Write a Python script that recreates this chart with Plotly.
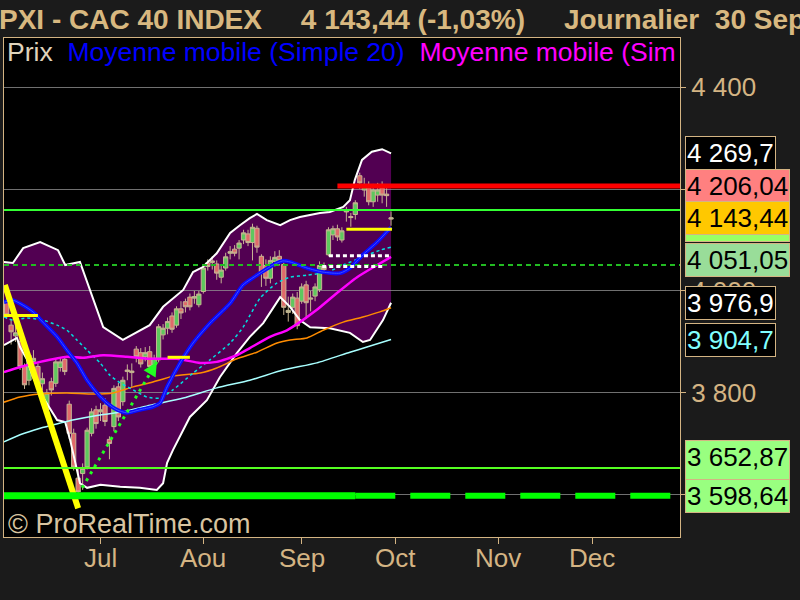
import plotly.graph_objects as go

# ---------------- data (trading-day index, 0 = 1 Jul) ----------------
day_index = list(range(-21, 66))
open_ = [3979, 3933, 3912, 3901, 3852, 3825, 3862, 3852, 3818, 3767, 3822, 3819, 3850, 3866, 3778, 3721, 3633, 3642, 3655, 3721, 3767,
         3763, 3776, 3709, 3734, 3812, 3783, 3842, 3840, 3886, 3879, 3871, 3881, 3855, 3865, 3914, 3927, 3951, 3933, 3965, 3979, 3988,
         3986, 3973, 3999, 4055, 4056, 4053, 4027, 4045, 4074, 4082, 4084, 4100, 4112, 4095, 4123, 4068, 4050, 4025, 4058, 4068, 4052,
         3958, 3968, 3986, 3980, 4012, 3984, 3990, 4003, 4048, 4071, 4110, 4122, 4100, 4155, 4146, 4150, 4226, 4198, 4202, 4175, 4188,
         4202, 4190, 4141]
high = [3990, 3945, 3935, 3910, 3858, 3880, 3884, 3858, 3840, 3808, 3830, 3868, 3870, 3872, 3785, 3730, 3652, 3662, 3732, 3770, 3775,
        3780, 3790, 3715, 3815, 3820, 3832, 3856, 3858, 3892, 3888, 3890, 3892, 3875, 3935, 3935, 3948, 3958, 3970, 3980, 3985, 3995,
        4000, 4000, 4052, 4062, 4068, 4060, 4050, 4075, 4088, 4090, 4100, 4120, 4120, 4132, 4128, 4072, 4062, 4068, 4078, 4080, 4058,
        3989, 3995, 3998, 4015, 4020, 4000, 4015, 4058, 4056, 4125, 4128, 4130, 4125, 4165, 4153, 4178, 4232, 4222, 4215, 4210, 4212,
        4215, 4205, 4156]
low = [3945, 3895, 3900, 3845, 3808, 3815, 3845, 3806, 3805, 3760, 3795, 3812, 3842, 3835, 3710, 3648, 3598.64, 3610, 3650, 3715, 3730,
       3745, 3735, 3670, 3725, 3745, 3775, 3825, 3812, 3860, 3850, 3862, 3845, 3848, 3860, 3905, 3915, 3918, 3928, 3945, 3958, 3962,
       3975, 3968, 3995, 4040, 4042, 4022, 4015, 4040, 4062, 4068, 4062, 4092, 4088, 4060, 4075, 4008, 4010, 4015, 4048, 4050, 3953,
       3940, 3955, 3925, 3975, 3945, 3960, 3980, 3998, 4035, 4068, 4100, 4098, 4095, 4136, 4126, 4140, 4200, 4185, 4168, 4165, 4175,
       4172, 4165, 4128]
close = [3953, 3920, 3918, 3852, 3816, 3874, 3868, 3816, 3828, 3800, 3806, 3861, 3861, 3842, 3721, 3655, 3606, 3652, 3727, 3763, 3740,
         3767, 3744, 3701, 3809, 3753, 3825, 3845, 3843, 3871, 3857, 3879, 3852, 3868, 3930, 3927, 3940, 3925, 3965, 3957, 3969, 3969,
         3989, 3994, 4045, 4048, 4059, 4035, 4041, 4067, 4077, 4074, 4094, 4114, 4095, 4125, 4086, 4035, 4025, 4060, 4066, 4060, 3968,
         3962, 3988, 3932, 4008, 3977, 3986, 4008, 4050, 4042, 4120, 4122, 4106, 4118, 4157, 4144, 4173, 4212, 4206, 4175, 4198, 4198,
         4188, 4187, 4143.44]

month_ticks = [0, 23, 45, 66, 89, 110]
month_labels = ["Jul", "Aou", "Sep", "Oct", "Nov", "Dec"]
price_ticks = [3600, 3800, 4000, 4200, 4400]
price_tick_labels = ["3 600", "3 800", "4 000", "4 200", "4 400"]

# Bollinger bands
bb_up_x = [-21.6, -19.6, -17.3, -13.5, -9.5, -7.9, -4.6, -2.3, 0.6, 5, 8.8, 11, 14, 18.5, 20.7, 22.9, 26, 29, 31.2, 33.4, 35,
           37.2, 40.2, 42.4, 44.6, 46.9, 49.1, 51.3, 54.3, 55.8, 56.9, 58.5, 60.7, 63, 65]
bb_up_y = [4057, 4055, 4084, 4096, 4080, 4051, 4057, 4002, 3929, 3904, 3923, 3933, 3969, 4002, 4037, 4047, 4074, 4114, 4129, 4143,
           4151, 4139, 4129, 4139, 4145, 4149, 4153, 4155, 4165, 4178, 4218, 4257, 4273, 4278, 4269.7]
bb_lo_x = [-21.6, -19.6, -18.7, -18, -16.4, -15.1, -12.9, -9.7, -7.9, -6.8, -5.7, -4.6, -3, 0, 4.4, 8.8, 12.6, 14, 14.9, 16.2,
           20, 23.8, 26.7, 30.5, 33.4, 36.4, 40.2, 42.4, 44.6, 46.9, 51.3, 55.8, 58.7, 60.3, 63.2, 65]
bb_lo_y = [3894, 3904, 3908, 3890, 3865, 3831, 3792, 3747, 3743, 3708, 3663, 3623, 3614, 3620, 3616, 3614, 3610, 3623, 3663, 3688,
           3753, 3786, 3831, 3878, 3910, 3937, 3988, 3969, 3943, 3929, 3927, 3918, 3900, 3904, 3943, 3976.9]

# moving averages
ma20_x = [-21.6, -19.6, -17.3, -15.1, -12.9, -9.7, -7.5, -5.3, -3, -0.8, 1.5, 3.7, 5.9, 8.8, 11.7, 13.3, 14.9, 17.8, 20.7, 24.5,
          29, 31.9, 35.7, 38.6, 40.8, 42.4, 46.2, 49.8, 53.6, 55.8, 58.7, 61.9, 65]
ma20_y = [3978, 3982, 3972, 3959, 3939, 3910, 3884, 3859, 3825, 3800, 3780, 3767, 3761, 3767, 3773, 3780, 3812, 3859, 3898, 3937,
          3976, 4012, 4035, 4051, 4059, 4057, 4045, 4037, 4035, 4045, 4071, 4096, 4125]
ma50_x = [-21.6, -18, -13.5, -7.5, -3.9, 0.6, 5.9, 11, 17.1, 22.3, 26, 30.5, 33.4, 37.9, 41.7, 44.6, 48.4, 52.9, 57.4, 61.9, 65]
ma50_y = [3841, 3851, 3861, 3871, 3869, 3874, 3871, 3867, 3867, 3859, 3861, 3874, 3888, 3910, 3923, 3939, 3963, 3996, 4027, 4051, 4067]
ma100_x = [-21.6, -18, -13.5, -7.5, -1.7, 2.8, 7.3, 11.1, 16.2, 22.3, 26, 30.5, 35, 39.5, 42.4, 46.2, 49.8, 54.3, 58.7, 62.5, 65]
ma100_y = [3782, 3792, 3798, 3800, 3798, 3800, 3812, 3820, 3833, 3839, 3849, 3867, 3880, 3898, 3904, 3908, 3923, 3939, 3949, 3959, 3967]
ma200_x = [-21.6, -18, -13.5, -9, -6.2, -0.1, 5, 11.1, 18.5, 26, 33.4, 40.8, 48.4, 55.8, 59.6, 65]
ma200_y = [3704, 3718, 3731, 3741, 3747, 3757, 3763, 3776, 3790, 3810, 3825, 3845, 3859, 3880, 3890, 3904.7]
ma_dot_x = [-21.6, -19.6, -16.4, -12.9, -9.7, -7.5, -5.3, -3, -0.1, 2.1, 4.4, 7.3, 10.4, 13.3, 16.2, 20.7, 24.5, 29, 31.9, 35.7,
            39.5, 42.4, 46.2, 50.7, 54.3, 58.7, 62.5, 65]
ma_dot_y = [3949, 3943, 3947, 3943, 3933, 3923, 3904, 3884, 3859, 3835, 3820, 3806, 3792, 3790, 3806, 3839, 3865, 3898, 3929, 3986,
            4016, 4027, 4031, 4037, 4051, 4067, 4080, 4086]

# drawn objects: levels and trend lines
level_resist = 4206.04
level_green_hi = 4159
level_pivot = 4051.05
level_green_lo = 3652.87
level_low = 3598.64
white_dot_levels = [(51.1, 65.2, 4069), (49.6, 63.6, 4048)]
yellow_levels = [(-21.6, -14.0, 3952), (15.0, 20.0, 3870), (55.0, 65.2, 4121)]
trend_x = [-21.4, -5.0]
trend_y = [4012, 3574]
arrow_x = [-4.1, 12.6]
arrow_y = [3614, 3861]

# right-side value labels: value, text, background, text colour, y shift(px)
value_labels = [
    (4269.7, "4 269,7", "#000000", "#ffffff", 0),
    (4206.04, "4 206,04", "#ff8080", "#000000", 0),
    (4143.44, "4 143,44", "#ffc800", "#000000", 0),
    (4051.05, "4 051,05", "#99dd99", "#000000", 5),
    (3976.9, "3 976,9", "#000000", "#ffffff", 0),
    (3904.7, "3 904,7", "#000000", "#80ffff", 0),
    (3652.87, "3 652,87<br>Mensuel", "#99ff80", "#000000", -6),
    (3598.64, "3 598,64", "#99ff80", "#000000", 0),
]
strip_label_value = 4103

# ---------------- figure ----------------
TAN = "#d4b483"
FONT = "Liberation Sans, Arial, sans-serif"
X_MIN, X_MAX = -21.59, 129.64
Y_MIN, Y_MAX = 3517.6, 4496.1

fig = go.Figure()

# band fill as a shape below the grid (so candles stay visible above it)
band_pts = list(zip(bb_up_x, bb_up_y)) + list(zip(bb_lo_x, bb_lo_y))[::-1]
band_path = "M " + " L ".join(f"{x},{y}" for x, y in band_pts) + " Z"

fig.add_trace(go.Candlestick(
    x=day_index, open=open_, high=high, low=low, close=close,
    increasing=dict(line=dict(color="#c8b493", width=1), fillcolor="#5ec85e"),
    decreasing=dict(line=dict(color="#c8b493", width=1), fillcolor="#e06a6a"),
    whiskerwidth=0, hoverinfo="skip"))

fig.add_trace(go.Scatter(x=bb_up_x, y=bb_up_y, mode="lines", line=dict(color="white", width=2), hoverinfo="skip"))
fig.add_trace(go.Scatter(x=bb_lo_x, y=bb_lo_y, mode="lines", line=dict(color="white", width=2), hoverinfo="skip"))

fig.add_trace(go.Scatter(x=ma200_x, y=ma200_y, mode="lines",
                         line=dict(color="#a8ffff", width=1.5, shape="spline", smoothing=0.6)))
fig.add_trace(go.Scatter(x=ma100_x, y=ma100_y, mode="lines",
                         line=dict(color="#ff8c00", width=1.5, shape="spline", smoothing=0.6)))
fig.add_trace(go.Scatter(x=ma_dot_x, y=ma_dot_y, mode="lines",
                         line=dict(color="#00e0e0", width=1.5, dash="3px,3px", shape="spline", smoothing=0.6)))
fig.add_trace(go.Scatter(x=ma50_x, y=ma50_y, mode="lines",
                         line=dict(color="#ff00ff", width=2.5, shape="spline", smoothing=0.6)))
fig.add_trace(go.Scatter(x=ma20_x, y=ma20_y, mode="lines",
                         line=dict(color="#0a0aff", width=4, shape="spline", smoothing=0.6)))
fig.add_trace(go.Scatter(x=ma20_x, y=ma20_y, mode="lines",
                         line=dict(color="#3c50ff", width=1, shape="spline", smoothing=0.6)))

# trend line and arrow
fig.add_trace(go.Scatter(x=trend_x, y=trend_y, mode="lines", line=dict(color="#ffff00", width=6)))
fig.add_trace(go.Scatter(x=arrow_x, y=arrow_y, mode="lines", line=dict(color="#22ff22", width=3, dash="3px,5px")))
fig.add_trace(go.Scatter(x=[arrow_x[-1]], y=[arrow_y[-1]], mode="markers",
                         marker=dict(symbol="arrow-up", angle=31, size=14, color="#22ff22")))

shapes = [dict(type="path", xref="x", yref="y", path=band_path, fillcolor="#520052",
               line=dict(width=0), layer="below")]
shapes.append(dict(type="line", xref="x", yref="y", x0=53, x1=X_MAX, y0=level_resist, y1=level_resist,
                   line=dict(color="#ff0000", width=5)))
shapes.append(dict(type="line", xref="x", yref="y", x0=X_MIN, x1=X_MAX, y0=level_green_hi, y1=level_green_hi,
                   line=dict(color="#33ff33", width=2)))
shapes.append(dict(type="line", xref="x", yref="y", x0=X_MIN, x1=X_MAX, y0=level_pivot, y1=level_pivot,
                   line=dict(color="#22bb22", width=2, dash="5px,4px")))
shapes.append(dict(type="line", xref="x", yref="y", x0=X_MIN, x1=X_MAX, y0=level_green_lo, y1=level_green_lo,
                   line=dict(color="#55ff22", width=2)))
shapes.append(dict(type="line", xref="x", yref="y", x0=X_MIN, x1=57, y0=level_low, y1=level_low,
                   line=dict(color="#00ff00", width=7)))
shapes.append(dict(type="line", xref="x", yref="y", x0=57, x1=X_MAX, y0=level_low, y1=level_low,
                   line=dict(color="#00ff00", width=6, dash="40px,15px")))
for x0, x1, v in white_dot_levels:
    shapes.append(dict(type="line", xref="x", yref="y", x0=x0, x1=x1, y0=v, y1=v,
                       line=dict(color="#ffffff", width=3, dash="4px,3px")))
for x0, x1, v in yellow_levels:
    shapes.append(dict(type="line", xref="x", yref="y", x0=x0, x1=x1, y0=v, y1=v,
                       line=dict(color="#ffff00", width=3)))

annotations = []
annotations.append(dict(
    xref="paper", yref="paper", x=0, y=1, xanchor="left", yanchor="bottom", xshift=-7, yshift=1,
    text="<b>PXI - CAC 40 INDEX&nbsp;&nbsp;&nbsp;&nbsp; 4 143,44 (-1,03%)&nbsp;&nbsp;&nbsp;&nbsp; Journalier&nbsp; 30 Sep</b>",
    showarrow=False, font=dict(family=FONT, size=28, color="#d8b880")))
annotations.append(dict(
    xref="paper", yref="paper", x=0, y=1, xanchor="left", yanchor="top", xshift=1, yshift=3,
    text=("<span style='color:#e0d4bc'>Prix</span>&nbsp;&nbsp;<span style='color:#0000ff'>Moyenne mobile (Simple 20)</span>"
          "&nbsp;&nbsp;<span style='color:#ff00ff'>Moyenne mobile (Sim</span>"),
    showarrow=False, font=dict(family=FONT, size=26.5, color="#e0d4bc")))
annotations.append(dict(
    xref="paper", yref="paper", x=0, y=0, xanchor="left", yanchor="bottom", xshift=2, yshift=-4,
    text="© ProRealTime.com", showarrow=False, font=dict(family=FONT, size=27, color="#d8c4a0")))

for m, lab in zip(month_ticks, month_labels):
    annotations.append(dict(xref="x", yref="paper", x=m, y=0, xanchor="center", yanchor="middle", yshift=-21,
                            text=lab, showarrow=False, font=dict(family=FONT, size=26, color=TAN)))

# partially hidden strip label
annotations.append(dict(xref="paper", yref="y", x=1, y=strip_label_value, xanchor="left", yanchor="middle", xshift=5,
                        text="&nbsp;" * 62, showarrow=False, bgcolor="#99ff66", bordercolor=TAN, borderwidth=1,
                        borderpad=0, font=dict(family=FONT, size=6)))
for v, txt, bg, fg, ys in value_labels:
    annotations.append(dict(xref="paper", yref="y", x=1, y=v, xanchor="left", yanchor="middle", xshift=5, yshift=ys,
                            text=txt, showarrow=False, bgcolor=bg, bordercolor=TAN, borderwidth=1, borderpad=1,
                            align="left", font=dict(family=FONT, size=26, color=fg)))

fig.update_layout(
    width=800, height=600,
    margin=dict(l=4, r=120, t=38, b=63),
    paper_bgcolor="#1b1b1b", plot_bgcolor="#000000",
    showlegend=False, boxgap=0.05, boxgroupgap=0,
    shapes=shapes, annotations=annotations,
    xaxis=dict(range=[X_MIN, X_MAX], tickvals=month_ticks, ticktext=month_labels, showticklabels=False,
               ticks="outside", ticklen=6, tickcolor=TAN,
               showgrid=False, zeroline=False, showline=True, linecolor=TAN, linewidth=1, mirror=True,
               rangeslider=dict(visible=False), fixedrange=True),
    yaxis=dict(range=[Y_MIN, Y_MAX], side="right", tickvals=price_ticks, ticktext=price_tick_labels,
               ticks="outside", ticklen=5, tickcolor=TAN, tickfont=dict(family=FONT, size=26, color=TAN),
               showgrid=True, gridcolor="rgba(150,150,150,0.75)", gridwidth=1,
               zeroline=False, showline=True, linecolor=TAN, linewidth=1, mirror=True,
               fixedrange=True),
)

fig.write_html("out.html", config={"displayModeBar": False},
               post_script="document.body.style.margin='0';")
